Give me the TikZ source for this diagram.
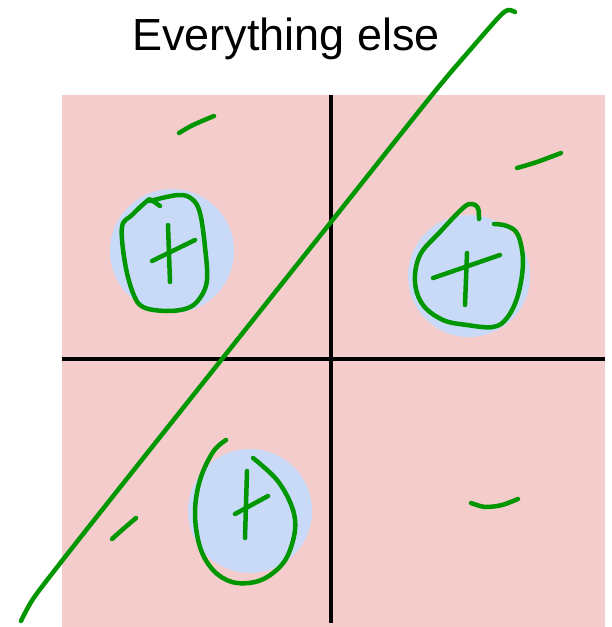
\documentclass[tikz,border=0pt]{standalone}
\usepackage{fontspec}
\setmainfont{Liberation Sans}
\definecolor{quadpink}{RGB}{244,204,204}
\definecolor{discblue}{RGB}{201,218,248}
\definecolor{penGreen}{RGB}{0,150,0}

\tikzset{every picture/.style={line width=0.75pt}}
\tikzset{
  pen/.style={draw=penGreen, line width=4.5pt, line cap=round, line join=round},
  axis/.style={draw=black, line width=4pt},
  disc/.style={fill=discblue}
}

\begin{document}
\begin{tikzpicture}[x=1pt, y=-1pt]
        \useasboundingbox (0,0) rectangle (612,627);
        \fill[quadpink] (62,95) rectangle (605,627);
        % blue discs
        \fill[disc] (172,251) circle (62);
        \fill[disc] (469,276) circle (61);
        \fill[disc] (250,511) circle (62);
        % axes
        \draw[axis] (331,95) -- (331,623);
        \draw[axis] (62,359) -- (605,359);
        \node[anchor=base, font=\fontsize{45}{54}\selectfont] (title) at (286,50) {Everything else};
        % the separating stroke
        \draw[pen] plot[smooth, tension=0.5] coordinates {(21,621) (33,599) (58,566) (110,500) (222,359) (331,222) (432,95) (470,50) (499,17) (508,10) (515,12)};
        % loops with plus signs
        \draw[pen] plot[smooth, tension=0.6] coordinates {(150,201) (178,195) (192,199) (200,213) (205,247) (207,280) (200,298) (188,308) (167,311) (143,307) (133,293) (125,263) (122,227) (132,215) (147,201) (151,200) (160,206)};
        \draw[pen] (168,225) -- (170,282);
        \draw[pen] (152,261) -- (195,240);
        \draw[pen] plot[smooth, tension=0.6] coordinates {(479,219) (478,208) (472,204) (463,208) (440,232) (420,255) (415,282) (423,305) (443,320) (467,325) (493,327) (507,318) (518,295) (523,262) (518,235) (507,226) (494,224)};
        \draw[pen] (467,253) -- (465,305);
        \draw[pen] (433,278) -- (500,255);
        \draw[pen] plot[smooth, tension=0.6] coordinates {(226,440) (213,452) (200,480) (195,513) (200,547) (213,570) (232,582) (255,582) (273,573) (287,557) (295,530) (292,507) (277,480) (253,458)};
        \draw[pen] (247,471) -- (245,538);
        \draw[pen] (235,514) -- (268,496);
        % minus signs
        \draw[pen] plot[smooth] coordinates {(179,133) (193,125) (214,116)};
        \draw[pen] plot[smooth] coordinates {(517,168) (537,162) (561,153)};
        \draw[pen] plot[smooth] coordinates {(112,539) (122,530) (136,518)};
        \draw[pen] plot[smooth] coordinates {(471,503) (485,507) (502,505) (518,499)};
    \end{tikzpicture}
\end{document}
